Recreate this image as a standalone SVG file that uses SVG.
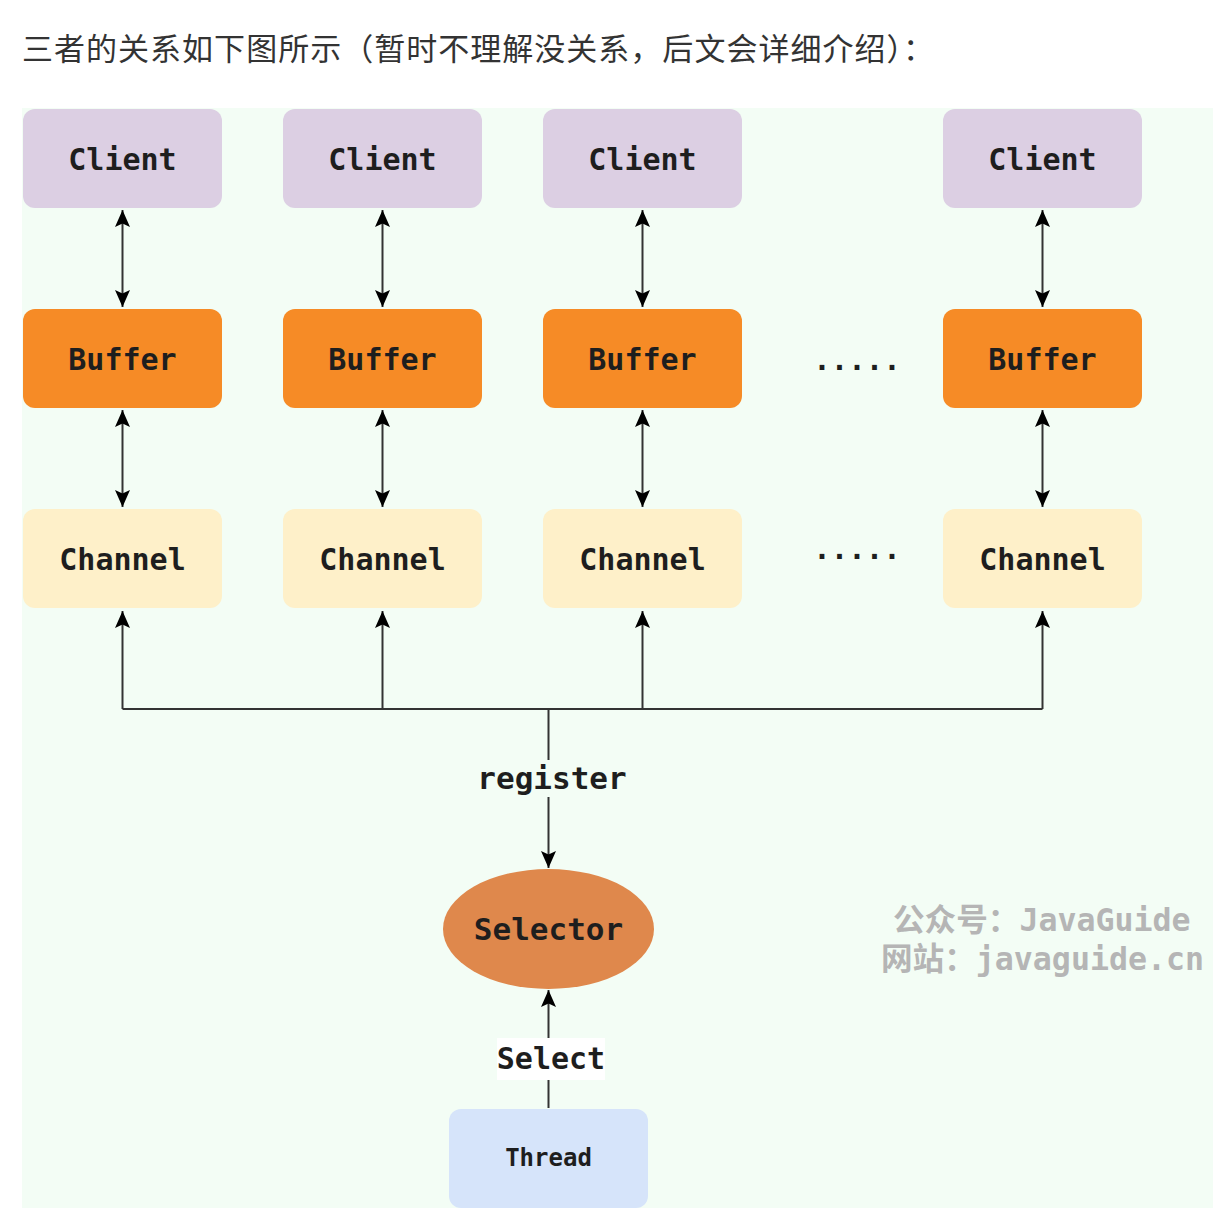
<svg xmlns="http://www.w3.org/2000/svg" width="1218" height="1220" viewBox="0 0 1218 1220">
  <style>
    .lbl { font-family: "DejaVu Sans Mono", "Liberation Mono", monospace; font-weight: bold; fill: #1e1e1e; text-anchor: middle; }
    .client { fill: #dccfe3; }
    .buffer { fill: #f68b26; }
    .channel { fill: #fef0c9; }
    .thread { fill: #d6e4fa; }
    .conn { stroke: #333333; stroke-width: 2; fill: none; }
    .wm { font-family: "DejaVu Sans Mono", "Noto Sans CJK SC", monospace; font-weight: bold; font-size: 31.6px; fill: #b5b5b5; }
  </style>
  <defs>
    <marker id="arr" viewBox="0 0 18 18" refX="17" refY="9" markerWidth="18" markerHeight="18" markerUnits="userSpaceOnUse" orient="auto-start-reverse" overflow="visible">
      <path d="M0,1.5 L17,9 L0,16.5 L3.5,9 Z" fill="#000000"/>
    </marker>
  </defs>
  <rect x="0" y="0" width="1218" height="1220" fill="#ffffff"/>
  <text x="22" y="60" font-family="'Noto Sans CJK SC', sans-serif" font-size="31" fill="#333333" textLength="912" lengthAdjust="spacing">三者的关系如下图所示（暂时不理解没关系，后文会详细介绍）：</text>
  <rect x="22" y="108" width="1191" height="1100" fill="#f3fdf5"/>

  <g id="connectors">
    <line class="conn" x1="122.5" y1="210" x2="122.5" y2="307" marker-start="url(#arr)" marker-end="url(#arr)"/>
    <line class="conn" x1="382.5" y1="210" x2="382.5" y2="307" marker-start="url(#arr)" marker-end="url(#arr)"/>
    <line class="conn" x1="642.5" y1="210" x2="642.5" y2="307" marker-start="url(#arr)" marker-end="url(#arr)"/>
    <line class="conn" x1="1042.5" y1="210" x2="1042.5" y2="307" marker-start="url(#arr)" marker-end="url(#arr)"/>
    <line class="conn" x1="122.5" y1="410" x2="122.5" y2="507" marker-start="url(#arr)" marker-end="url(#arr)"/>
    <line class="conn" x1="382.5" y1="410" x2="382.5" y2="507" marker-start="url(#arr)" marker-end="url(#arr)"/>
    <line class="conn" x1="642.5" y1="410" x2="642.5" y2="507" marker-start="url(#arr)" marker-end="url(#arr)"/>
    <line class="conn" x1="1042.5" y1="410" x2="1042.5" y2="507" marker-start="url(#arr)" marker-end="url(#arr)"/>
    <path class="conn" d="M122.5,709 L122.5,611" marker-end="url(#arr)"/>
    <path class="conn" d="M382.5,709 L382.5,611" marker-end="url(#arr)"/>
    <path class="conn" d="M642.5,709 L642.5,611" marker-end="url(#arr)"/>
    <path class="conn" d="M1042.5,709 L1042.5,611" marker-end="url(#arr)"/>
    <line class="conn" x1="122.5" y1="709" x2="1042.5" y2="709"/>
    <path class="conn" d="M548.5,709 L548.5,868" marker-end="url(#arr)"/>
    <rect x="474" y="760" width="156" height="37" fill="#f3fdf5"/>
    <text class="lbl" x="552" y="789" font-size="31">register</text>
    <path class="conn" d="M548.5,1108 L548.5,990" marker-end="url(#arr)"/>
    <rect x="497" y="1038" width="108" height="42" fill="#ffffff"/>
    <text class="lbl" x="551" y="1069" font-size="30">Select</text>
  </g>

  <g id="client1"><rect class="client" x="23" y="109" width="199" height="99" rx="12"/><text class="lbl" x="122.5" y="170" font-size="30">Client</text></g>
  <g id="client2"><rect class="client" x="283" y="109" width="199" height="99" rx="12"/><text class="lbl" x="382.5" y="170" font-size="30">Client</text></g>
  <g id="client3"><rect class="client" x="543" y="109" width="199" height="99" rx="12"/><text class="lbl" x="642.5" y="170" font-size="30">Client</text></g>
  <g id="client4"><rect class="client" x="943" y="109" width="199" height="99" rx="12"/><text class="lbl" x="1042.5" y="170" font-size="30">Client</text></g>

  <g id="buffer1"><rect class="buffer" x="23" y="309" width="199" height="99" rx="12"/><text class="lbl" x="122.5" y="370" font-size="30">Buffer</text></g>
  <g id="buffer2"><rect class="buffer" x="283" y="309" width="199" height="99" rx="12"/><text class="lbl" x="382.5" y="370" font-size="30">Buffer</text></g>
  <g id="buffer3"><rect class="buffer" x="543" y="309" width="199" height="99" rx="12"/><text class="lbl" x="642.5" y="370" font-size="30">Buffer</text></g>
  <g id="buffer4"><rect class="buffer" x="943" y="309" width="199" height="99" rx="12"/><text class="lbl" x="1042.5" y="370" font-size="30">Buffer</text></g>

  <g id="channel1"><rect class="channel" x="23" y="509" width="199" height="99" rx="12"/><text class="lbl" x="122.5" y="570" font-size="30">Channel</text></g>
  <g id="channel2"><rect class="channel" x="283" y="509" width="199" height="99" rx="12"/><text class="lbl" x="382.5" y="570" font-size="30">Channel</text></g>
  <g id="channel3"><rect class="channel" x="543" y="509" width="199" height="99" rx="12"/><text class="lbl" x="642.5" y="570" font-size="30">Channel</text></g>
  <g id="channel4"><rect class="channel" x="943" y="509" width="199" height="99" rx="12"/><text class="lbl" x="1042.5" y="570" font-size="30">Channel</text></g>

  <g id="dots-buffer"><text class="lbl" x="857" y="370" font-size="29">.....</text></g>
  <g id="dots-channel"><text class="lbl" x="857" y="559" font-size="29">.....</text></g>

  <g id="selector"><ellipse cx="548.5" cy="929" rx="105.5" ry="60" fill="#df884c"/><text class="lbl" x="548.5" y="940" font-size="31">Selector</text></g>

  <g id="thread"><rect class="thread" x="449" y="1109" width="199" height="99" rx="12"/><text class="lbl" x="548.5" y="1166" font-size="24">Thread</text></g>

  <g id="watermark">
    <text class="wm" x="893" y="931">公众号：JavaGuide</text>
    <text class="wm" x="881" y="970">网站：javaguide.cn</text>
  </g>
</svg>
